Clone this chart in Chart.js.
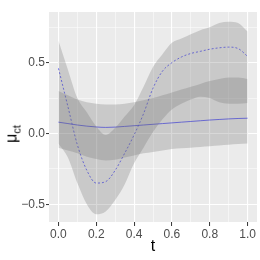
<!DOCTYPE html>
<html>
<head>
<meta charset="utf-8">
<script src="https://cdn.jsdelivr.net/npm/chart.js@4"></script>
<style>
  html, body { margin: 0; padding: 0; background: #ffffff; }
  #wrap { position: relative; width: 260px; height: 260px; }
  #ylab { position: absolute; left: 13px; top: 134px; transform: translate(-50%, -50%) rotate(-90deg);
          font-family: 'Liberation Sans', Arial, sans-serif; font-size: 16px; color: #000; white-space: nowrap; line-height: 1; }
  #ylab sub { font-size: 11px; vertical-align: -4px; }
</style>
</head>
<body>
<div id="wrap">
  <canvas id="c" width="260" height="260"></canvas>
  <div id="ylab">μ<sub>ct</sub></div>
</div>
<script>
// ---- data ----
const tValues    = [0.00, 0.05, 0.10, 0.15, 0.20, 0.25, 0.30, 0.35, 0.40, 0.45, 0.50, 0.55, 0.60, 0.65, 0.70, 0.75, 0.80, 0.85, 0.90, 0.95, 1.00];
const solidMean  = [0.080, 0.070, 0.060, 0.052, 0.046, 0.043, 0.045, 0.050, 0.055, 0.060, 0.065, 0.070, 0.075, 0.080, 0.085, 0.090, 0.095, 0.099, 0.103, 0.106, 0.108];
const solidLower = [-0.100, -0.120, -0.140, -0.165, -0.180, -0.190, -0.185, -0.170, -0.155, -0.140, -0.130, -0.120, -0.110, -0.105, -0.100, -0.095, -0.090, -0.085, -0.080, -0.075, -0.070];
const solidUpper = [0.300, 0.270, 0.240, 0.220, 0.210, 0.205, 0.205, 0.210, 0.220, 0.235, 0.250, 0.270, 0.290, 0.310, 0.330, 0.350, 0.370, 0.385, 0.395, 0.395, 0.385];
const dashedMean  = [0.46, 0.19, -0.08, -0.26, -0.35, -0.34, -0.26, -0.14, -0.01, 0.14, 0.32, 0.44, 0.50, 0.54, 0.565, 0.58, 0.595, 0.605, 0.61, 0.60, 0.545];
const dashedLower = [-0.07, -0.17, -0.35, -0.50, -0.57, -0.55, -0.47, -0.36, -0.21, -0.10, 0.01, 0.10, 0.17, 0.21, 0.24, 0.26, 0.25, 0.22, 0.21, 0.21, 0.215];
const dashedUpper = [0.655, 0.45, 0.25, 0.15, 0.05, -0.01, 0.04, 0.12, 0.20, 0.33, 0.47, 0.56, 0.64, 0.67, 0.70, 0.73, 0.75, 0.78, 0.79, 0.78, 0.72];

const xMajorTicks = [0.0, 0.2, 0.4, 0.6, 0.8, 1.0];
const xTickLabels = ['0.0', '0.2', '0.4', '0.6', '0.8', '1.0'];
const xMinorTicks = [0.1, 0.3, 0.5, 0.7, 0.9];
const yMajorTicks = [-0.5, 0.0, 0.5];
const yTickLabels = ['\u22120.5', '0.0', '0.5'];
const yMinorTicks = [-0.25, 0.25, 0.75];
const xTitle = 't';

// ---- build ----
const pts = arr => tValues.map((t, i) => ({ x: t, y: arr[i] }));
const bandFill = 'rgba(110,110,110,0.27)';
const lineBlue = 'rgba(70,70,245,0.8)';

const isMajor = (list, v) => list.some(m => Math.abs(m - v) < 1e-9);

const panelBg = {
  id: 'panelBg',
  beforeDraw(chart) {
    const { ctx, chartArea: a } = chart;
    ctx.save();
    ctx.fillStyle = '#EBEBEB';
    ctx.fillRect(a.left, a.top, a.right - a.left, a.bottom - a.top);
    ctx.restore();
  }
};

const common = { pointRadius: 0, cubicInterpolationMode: 'monotone', borderWidth: 0 };

new Chart(document.getElementById('c'), {
  type: 'line',
  data: {
    datasets: [
      { ...common, data: pts(dashedLower), borderColor: 'rgba(0,0,0,0)', fill: false },
      { ...common, data: pts(dashedUpper), borderColor: 'rgba(0,0,0,0)', backgroundColor: bandFill, fill: '-1' },
      { ...common, data: pts(solidLower), borderColor: 'rgba(0,0,0,0)', fill: false },
      { ...common, data: pts(solidUpper), borderColor: 'rgba(0,0,0,0)', backgroundColor: bandFill, fill: '-1' },
      { ...common, data: pts(solidMean), borderColor: lineBlue, borderWidth: 1, fill: false },
      { ...common, data: pts(dashedMean), borderColor: lineBlue, borderWidth: 1, borderDash: [2, 2], fill: false }
    ]
  },
  options: {
    responsive: false,
    animation: false,
    layout: { padding: { top: 12, right: 3, left: 0, bottom: 0 } },
    plugins: { legend: { display: false }, tooltip: { enabled: false } },
    scales: {
      x: {
        type: 'linear', min: -0.05, max: 1.05,
        afterBuildTicks: s => { s.ticks = [...xMajorTicks, ...xMinorTicks].sort((a, b) => a - b).map(v => ({ value: v })); },
        afterFit: s => { s.height = 38; },
        border: { display: false },
        grid: {
          color: '#FFFFFF',
          lineWidth: c => (c.tick && isMajor(xMajorTicks, c.tick.value)) ? 1.1 : 0.5,
          tickColor: c => (c.tick && isMajor(xMajorTicks, c.tick.value)) ? '#333333' : 'rgba(0,0,0,0)',
          tickLength: 4, tickWidth: 1
        },
        ticks: {
          autoSkip: false, maxRotation: 0, padding: 1,
          color: '#4D4D4D', font: { family: "'Liberation Sans', Arial, sans-serif", size: 12 },
          callback: v => { const i = xMajorTicks.findIndex(m => Math.abs(m - v) < 1e-9); return i >= 0 ? xTickLabels[i] : ''; }
        },
        title: { display: true, text: xTitle, color: '#000', font: { family: "'Liberation Sans', Arial, sans-serif", size: 16 }, padding: { top: 0, bottom: 4 } }
      },
      y: {
        type: 'linear', min: -0.625, max: 0.858,
        afterBuildTicks: s => { s.ticks = [...yMajorTicks, ...yMinorTicks].sort((a, b) => a - b).map(v => ({ value: v })); },
        afterFit: s => { s.width = 49; },
        border: { display: false },
        grid: {
          color: '#FFFFFF',
          lineWidth: c => (c.tick && isMajor(yMajorTicks, c.tick.value)) ? 1.1 : 0.5,
          tickColor: c => (c.tick && isMajor(yMajorTicks, c.tick.value)) ? '#333333' : 'rgba(0,0,0,0)',
          tickLength: 3, tickWidth: 1
        },
        ticks: {
          autoSkip: false, padding: 1,
          color: '#4D4D4D', font: { family: "'Liberation Sans', Arial, sans-serif", size: 12 },
          callback: v => { const i = yMajorTicks.findIndex(m => Math.abs(m - v) < 1e-9); return i >= 0 ? yTickLabels[i] : ''; }
        }
      }
    }
  },
  plugins: [panelBg]
});
</script>
</body>
</html>
